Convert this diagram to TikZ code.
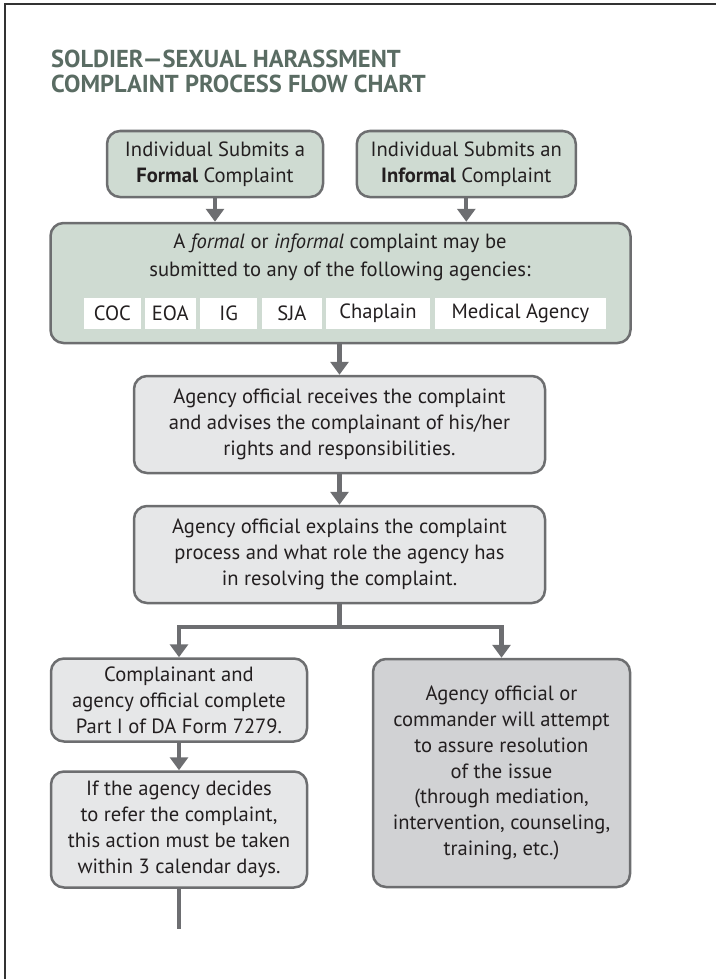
\documentclass[tikz,border=0pt]{standalone}
\usepackage{fontspec}
\setmainfont{PT Sans}
\usetikzlibrary{arrows.meta}
\definecolor{titlec}{HTML}{5A6C63}
\definecolor{txt}{HTML}{231F20}
\definecolor{bordc}{HTML}{6D6E70}
\definecolor{arrc}{HTML}{6D6E71}
\definecolor{greenc}{HTML}{CFDBD2}
\definecolor{lightc}{HTML}{E6E7E8}
\definecolor{darkc}{HTML}{D1D2D4}
\definecolor{framec}{HTML}{333333}
\newcommand{\bodyfnt}{\fontsize{20.6}{25.8}\selectfont}
\newcommand{\titlefnt}{\fontsize{24.5}{24.5}\selectfont\bfseries}
\tikzset{
  box/.style={draw=bordc, line width=2.5pt, rounded corners=13pt, inner sep=0pt,
    align=center, font=\bodyfnt, text=txt},
  greenbox/.style={box, fill=greenc},
  lightbox/.style={box, fill=lightc},
  darkbox/.style={box, fill=darkc},
  agency/.style={fill=white, inner sep=0pt, minimum height=31pt, font=\bodyfnt, text=txt},
  arr/.style={draw=arrc, line width=4.2pt, -{Triangle[length=13pt,width=18pt]}},
  ln/.style={draw=arrc, line width=4.2pt},
  ttl/.style={anchor=base west, inner sep=0pt, font=\titlefnt, text=titlec},
}
\begin{document}
\begin{tikzpicture}[x=1pt,y=-1pt]
\useasboundingbox (0,0) rectangle (716,979);
\draw[framec, line width=2pt] (4.5,979) -- (4.5,4.5) -- (716,4.5);

\node[ttl] (t1) at (51,68) {SOLDIER—SEXUAL HARASSMENT};
\node[ttl] (t2) at (51,92.5) {COMPLAINT PROCESS FLOW CHART};

\node[greenbox, minimum width=216pt, minimum height=66pt] (formal) at (215,164)
  {Individual Submits a\\\textbf{Formal} Complaint};
\node[greenbox, minimum width=219pt, minimum height=66pt] (informal) at (466.3,164)
  {Individual Submits an\\\textbf{Informal} Complaint};

\node[greenbox, minimum width=580pt, minimum height=120pt] (green) at (340.5,283) {};
\node[inner sep=0pt, align=center, font=\fontsize{20.6}{28.4}\selectfont, text=txt] (gtext) at (340,257.5)
  {A \textit{formal} or \textit{informal} complaint may be\\submitted to any of the following agencies:};

\node[agency, minimum width=56.2pt] (coc) at (112.4,313.5) {COC};
\node[agency, minimum width=51.3pt] (eoa) at (170.25,313.5) {EOA};
\node[agency, minimum width=57.4pt] (ig) at (228.7,313.5) {IG};
\node[agency, minimum width=60.8pt] (sja) at (291.9,313.5) {SJA};
\node[agency, minimum width=103.3pt] (chap) at (378.05,313.5) {Chaplain};
\node[agency, minimum width=171.5pt] (med) at (520.45,313.5) {Medical Agency};

\node[lightbox, minimum width=411pt, minimum height=97pt] (recv) at (339.5,424.5)
  {Agency official receives the complaint\\and advises the complainant of his/her\\rights and responsibilities.};
\node[lightbox, minimum width=411pt, minimum height=97pt] (expl) at (339.5,554.5)
  {Agency official explains the complaint\\process and what role the agency has\\in resolving the complaint.};

\node[lightbox, minimum width=256pt, minimum height=83pt] (comp) at (179,700)
  {Complainant and\\agency official complete\\Part I of DA Form 7279.};
\node[lightbox, minimum width=256pt, minimum height=116pt] (refer) at (179,829.5)
  {If the agency decides\\to refer the complaint,\\this action must be taken\\within 3 calendar days.};
\node[darkbox, minimum width=257pt, minimum height=228pt] (resol) at (501.5,773)
  {Agency official or\\commander will attempt\\to assure resolution\\of the issue\\(through mediation,\\intervention, counseling,\\training, etc.)};

\coordinate (jn) at (339.5,627);
\coordinate (endc) at (179,929);

\draw[arr] (formal.south) -- (formal.south |- green.north);
\draw[arr] (informal.south) -- (informal.south |- green.north);
\draw[arr] (recv.north |- green.south) -- (recv.north);
\draw[arr] (recv.south) -- (expl.north);
\draw[ln] (expl.south) -- (jn);
\draw[arr] (jn) -| (comp.north);
\draw[arr] (jn) -| (resol.north);
\draw[arr] (comp.south) -- (refer.north);
\draw[ln] (refer.south) -- (endc);
\end{tikzpicture}
\end{document}
